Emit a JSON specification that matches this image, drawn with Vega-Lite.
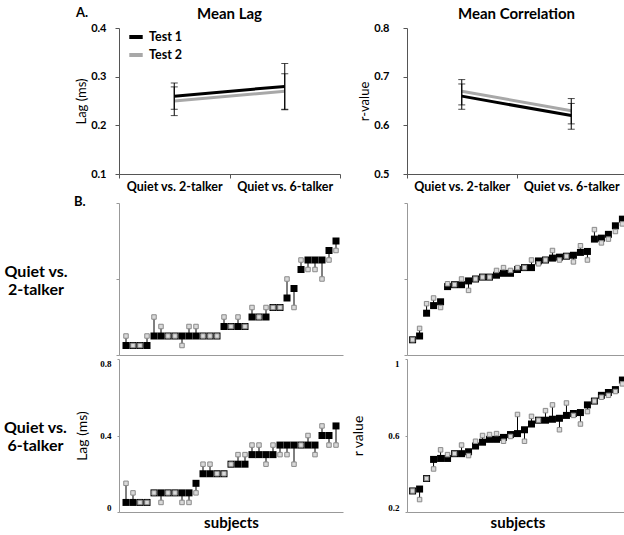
{
  "$schema": "https://vega.github.io/schema/vega-lite/v6.json",
  "padding": {"left": 3, "top": 7, "right": 5, "bottom": 5},
  "config": {
    "font": "Lato",
    "view": {"stroke": null},
    "axis": {"grid": false, "domainColor": "#555", "tickColor": "#555", "labelColor": "#000", "titleColor": "#000"}
  },
  "title": {"text": "A.", "anchor": "start", "frame": "group", "fontSize": 13, "fontWeight": "bold", "dx": -43, "dy": 17},
  "columns": 2,
  "spacing": {"row": 2, "column": 8},
  "datasets": {
    "lagmean": [
      {"cond": "Quiet vs. 2-talker", "test": "Test 1", "mean": 0.26, "lo": 0.233, "hi": 0.287},
      {"cond": "Quiet vs. 6-talker", "test": "Test 1", "mean": 0.28, "lo": 0.233, "hi": 0.327},
      {"cond": "Quiet vs. 2-talker", "test": "Test 2", "mean": 0.25, "lo": 0.22, "hi": 0.279},
      {"cond": "Quiet vs. 6-talker", "test": "Test 2", "mean": 0.27, "lo": 0.232, "hi": 0.306}
    ],
    "corrmean": [
      {"cond": "Quiet vs. 2-talker", "test": "Test 1", "mean": 0.66, "lo": 0.633, "hi": 0.685},
      {"cond": "Quiet vs. 6-talker", "test": "Test 1", "mean": 0.62, "lo": 0.592, "hi": 0.645},
      {"cond": "Quiet vs. 2-talker", "test": "Test 2", "mean": 0.67, "lo": 0.642, "hi": 0.694},
      {"cond": "Quiet vs. 6-talker", "test": "Test 2", "mean": 0.63, "lo": 0.603, "hi": 0.655}
    ],
    "lag2": [
      {"s": 1, "t1": 0.05, "t2": 0.10}, {"s": 2, "t1": 0.05, "t2": 0.05}, {"s": 3, "t1": 0.05, "t2": 0.05},
      {"s": 4, "t1": 0.05, "t2": 0.10}, {"s": 5, "t1": 0.10, "t2": 0.20}, {"s": 6, "t1": 0.10, "t2": 0.15},
      {"s": 7, "t1": 0.10, "t2": 0.10}, {"s": 8, "t1": 0.10, "t2": 0.10}, {"s": 9, "t1": 0.10, "t2": 0.05},
      {"s": 10, "t1": 0.10, "t2": 0.15}, {"s": 11, "t1": 0.10, "t2": 0.15}, {"s": 12, "t1": 0.10, "t2": 0.10},
      {"s": 13, "t1": 0.10, "t2": 0.10}, {"s": 14, "t1": 0.10, "t2": 0.10}, {"s": 15, "t1": 0.15, "t2": 0.20},
      {"s": 16, "t1": 0.15, "t2": 0.15}, {"s": 17, "t1": 0.15, "t2": 0.20}, {"s": 18, "t1": 0.15, "t2": 0.15},
      {"s": 19, "t1": 0.20, "t2": 0.25}, {"s": 20, "t1": 0.20, "t2": 0.20}, {"s": 21, "t1": 0.20, "t2": 0.25},
      {"s": 22, "t1": 0.25, "t2": 0.25}, {"s": 23, "t1": 0.25, "t2": 0.25}, {"s": 24, "t1": 0.30, "t2": 0.40},
      {"s": 25, "t1": 0.35, "t2": 0.25}, {"s": 26, "t1": 0.45, "t2": 0.50}, {"s": 27, "t1": 0.50, "t2": 0.45},
      {"s": 28, "t1": 0.50, "t2": 0.45}, {"s": 29, "t1": 0.50, "t2": 0.40}, {"s": 30, "t1": 0.55, "t2": 0.50},
      {"s": 31, "t1": 0.60, "t2": 0.55}
    ],
    "corr2": [
      {"s": 1, "t1": 0.28, "t2": 0.28}, {"s": 2, "t1": 0.30, "t2": 0.34}, {"s": 3, "t1": 0.42, "t2": 0.47},
      {"s": 4, "t1": 0.46, "t2": 0.50}, {"s": 5, "t1": 0.48, "t2": 0.45}, {"s": 6, "t1": 0.56, "t2": 0.575},
      {"s": 7, "t1": 0.57, "t2": 0.57}, {"s": 8, "t1": 0.57, "t2": 0.60}, {"s": 9, "t1": 0.59, "t2": 0.54},
      {"s": 10, "t1": 0.60, "t2": 0.60}, {"s": 11, "t1": 0.61, "t2": 0.61}, {"s": 12, "t1": 0.61, "t2": 0.61},
      {"s": 13, "t1": 0.62, "t2": 0.645}, {"s": 14, "t1": 0.63, "t2": 0.66}, {"s": 15, "t1": 0.63, "t2": 0.645},
      {"s": 16, "t1": 0.65, "t2": 0.66}, {"s": 17, "t1": 0.66, "t2": 0.66}, {"s": 18, "t1": 0.66, "t2": 0.70},
      {"s": 19, "t1": 0.695, "t2": 0.68}, {"s": 20, "t1": 0.70, "t2": 0.70}, {"s": 21, "t1": 0.71, "t2": 0.75},
      {"s": 22, "t1": 0.715, "t2": 0.70}, {"s": 23, "t1": 0.72, "t2": 0.72}, {"s": 24, "t1": 0.725, "t2": 0.69},
      {"s": 25, "t1": 0.74, "t2": 0.775}, {"s": 26, "t1": 0.745, "t2": 0.70}, {"s": 27, "t1": 0.81, "t2": 0.86},
      {"s": 28, "t1": 0.815, "t2": 0.79}, {"s": 29, "t1": 0.835, "t2": 0.81}, {"s": 30, "t1": 0.88, "t2": 0.85},
      {"s": 31, "t1": 0.915, "t2": 0.89}
    ],
    "lag6": [
      {"s": 1, "t1": 0.05, "t2": 0.15}, {"s": 2, "t1": 0.05, "t2": 0.10}, {"s": 3, "t1": 0.05, "t2": 0.05},
      {"s": 4, "t1": 0.05, "t2": 0.05}, {"s": 5, "t1": 0.10, "t2": 0.10}, {"s": 6, "t1": 0.10, "t2": 0.05},
      {"s": 7, "t1": 0.10, "t2": 0.10}, {"s": 8, "t1": 0.10, "t2": 0.10}, {"s": 9, "t1": 0.10, "t2": 0.05},
      {"s": 10, "t1": 0.10, "t2": 0.05}, {"s": 11, "t1": 0.15, "t2": 0.10}, {"s": 12, "t1": 0.20, "t2": 0.25},
      {"s": 13, "t1": 0.20, "t2": 0.25}, {"s": 14, "t1": 0.20, "t2": 0.20}, {"s": 15, "t1": 0.20, "t2": 0.20},
      {"s": 16, "t1": 0.25, "t2": 0.25}, {"s": 17, "t1": 0.25, "t2": 0.30}, {"s": 18, "t1": 0.25, "t2": 0.30},
      {"s": 19, "t1": 0.30, "t2": 0.35}, {"s": 20, "t1": 0.30, "t2": 0.35}, {"s": 21, "t1": 0.30, "t2": 0.25},
      {"s": 22, "t1": 0.30, "t2": 0.35}, {"s": 23, "t1": 0.35, "t2": 0.30}, {"s": 24, "t1": 0.35, "t2": 0.30},
      {"s": 25, "t1": 0.35, "t2": 0.25}, {"s": 26, "t1": 0.35, "t2": 0.35}, {"s": 27, "t1": 0.35, "t2": 0.40},
      {"s": 28, "t1": 0.35, "t2": 0.30}, {"s": 29, "t1": 0.40, "t2": 0.45}, {"s": 30, "t1": 0.40, "t2": 0.35},
      {"s": 31, "t1": 0.45, "t2": 0.35}
    ],
    "corr6": [
      {"s": 1, "t1": 0.31, "t2": 0.31}, {"s": 2, "t1": 0.32, "t2": 0.265}, {"s": 3, "t1": 0.375, "t2": 0.375},
      {"s": 4, "t1": 0.475, "t2": 0.425}, {"s": 5, "t1": 0.48, "t2": 0.525}, {"s": 6, "t1": 0.48, "t2": 0.50},
      {"s": 7, "t1": 0.505, "t2": 0.505}, {"s": 8, "t1": 0.505, "t2": 0.55}, {"s": 9, "t1": 0.515, "t2": 0.495},
      {"s": 10, "t1": 0.545, "t2": 0.57}, {"s": 11, "t1": 0.565, "t2": 0.60}, {"s": 12, "t1": 0.58, "t2": 0.605},
      {"s": 13, "t1": 0.58, "t2": 0.61}, {"s": 14, "t1": 0.59, "t2": 0.57}, {"s": 15, "t1": 0.605, "t2": 0.595},
      {"s": 16, "t1": 0.61, "t2": 0.71}, {"s": 17, "t1": 0.63, "t2": 0.57}, {"s": 18, "t1": 0.66, "t2": 0.70},
      {"s": 19, "t1": 0.68, "t2": 0.68}, {"s": 20, "t1": 0.68, "t2": 0.73}, {"s": 21, "t1": 0.685, "t2": 0.76},
      {"s": 22, "t1": 0.69, "t2": 0.63}, {"s": 23, "t1": 0.705, "t2": 0.77}, {"s": 24, "t1": 0.715, "t2": 0.705},
      {"s": 25, "t1": 0.72, "t2": 0.66}, {"s": 26, "t1": 0.76, "t2": 0.725}, {"s": 27, "t1": 0.78, "t2": 0.78},
      {"s": 28, "t1": 0.81, "t2": 0.80}, {"s": 29, "t1": 0.825, "t2": 0.81}, {"s": 30, "t1": 0.84, "t2": 0.83},
      {"s": 31, "t1": 0.89, "t2": 0.87}
    ]
  },
  "concat": [
    {
      "width": 221, "height": 146,
      "title": {"text": "Mean Lag", "fontSize": 15, "fontWeight": "bold", "offset": 0, "frame": "group"},
      "data": {"name": "lagmean"},
      "encoding": {
        "x": {"field": "cond", "type": "nominal", "sort": null, "title": null,
              "scale": {"type": "band", "paddingInner": 0, "paddingOuter": 0},
              "axis": {"labelAngle": 0, "labelFontSize": 12.5, "labelFontWeight": "bold", "tickBand": "extent", "tickSize": 4, "labelPadding": 2}}
      },
      "layer": [
        {"mark": {"type": "line", "strokeWidth": 3},
         "encoding": {
           "y": {"field": "mean", "type": "quantitative", "title": "Lag (ms)", "scale": {"domain": [0.1, 0.4]},
                 "axis": {"values": [0.1, 0.2, 0.3, 0.4], "format": ".1f", "labelFontSize": 11, "labelFontWeight": "bold", "tickSize": 4, "labelPadding": 9, "titleFontSize": 13, "titleFontWeight": "normal", "titlePadding": 2}},
           "color": {"field": "test", "type": "nominal", "scale": {"domain": ["Test 1", "Test 2"], "range": ["#000000", "#a8a8a8"]},
                     "legend": {"orient": "top-left", "title": null, "symbolType": "stroke", "symbolStrokeWidth": 4, "symbolSize": 180, "symbolOffset": 8, "labelFontSize": 12.5, "labelFontWeight": "bold", "offset": 0, "rowPadding": 1, "labelOffset": 4}}
         }},
        {"mark": {"type": "rule", "color": "black", "strokeWidth": 1},
         "encoding": {"y": {"field": "lo", "type": "quantitative", "title": "Lag (ms)", "scale": {"domain": [0.1, 0.4]}}, "y2": {"field": "hi"}}},
        {"mark": {"type": "tick", "orient": "horizontal", "size": 7, "thickness": 1, "color": "black"},
         "encoding": {"y": {"field": "lo", "type": "quantitative", "title": "Lag (ms)", "scale": {"domain": [0.1, 0.4]}}}},
        {"mark": {"type": "tick", "orient": "horizontal", "size": 7, "thickness": 1, "color": "black"},
         "encoding": {"y": {"field": "hi", "type": "quantitative", "title": "Lag (ms)", "scale": {"domain": [0.1, 0.4]}}}}
      ]
    },
    {
      "width": 219, "height": 146,
      "title": {"text": "Mean Correlation", "fontSize": 15, "fontWeight": "bold", "offset": 0, "frame": "group"},
      "data": {"name": "corrmean"},
      "encoding": {
        "x": {"field": "cond", "type": "nominal", "sort": null, "title": null,
              "scale": {"type": "band", "paddingInner": 0, "paddingOuter": 0},
              "axis": {"labelAngle": 0, "labelFontSize": 12.5, "labelFontWeight": "bold", "tickBand": "extent", "tickSize": 4, "labelPadding": 2}}
      },
      "layer": [
        {"mark": {"type": "line", "strokeWidth": 3},
         "encoding": {
           "y": {"field": "mean", "type": "quantitative", "title": "r-value", "scale": {"domain": [0.5, 0.8]},
                 "axis": {"values": [0.5, 0.6, 0.7, 0.8], "format": ".1f", "labelFontSize": 11, "labelFontWeight": "bold", "tickSize": 4, "labelPadding": 14, "titleFontSize": 13, "titleFontWeight": "normal", "titlePadding": 2}},
           "color": {"field": "test", "type": "nominal", "scale": {"domain": ["Test 1", "Test 2"], "range": ["#000000", "#a8a8a8"]}, "legend": null}
         }},
        {"mark": {"type": "rule", "color": "black", "strokeWidth": 1},
         "encoding": {"y": {"field": "lo", "type": "quantitative", "title": "r-value", "scale": {"domain": [0.5, 0.8]}}, "y2": {"field": "hi"}}},
        {"mark": {"type": "tick", "orient": "horizontal", "size": 7, "thickness": 1, "color": "black"},
         "encoding": {"y": {"field": "lo", "type": "quantitative", "title": "r-value", "scale": {"domain": [0.5, 0.8]}}}},
        {"mark": {"type": "tick", "orient": "horizontal", "size": 7, "thickness": 1, "color": "black"},
         "encoding": {"y": {"field": "hi", "type": "quantitative", "title": "r-value", "scale": {"domain": [0.5, 0.8]}}}}
      ]
    },
    {
      "width": 224, "height": 152,
      "title": {"text": "B.", "anchor": "start", "frame": "group", "dx": -45, "fontSize": 13, "fontWeight": "bold", "baseline": "top", "offset": -6},
      "data": {"name": "lag2"},
      "encoding": {
        "x": {"field": "s", "type": "quantitative", "title": null, "scale": {"domain": [0, 32], "nice": false, "zero": false},
              "axis": {"labels": false, "ticks": false, "domainColor": "#999"}}
      },
      "layer": [
        {"mark": {"type": "rule", "color": "black", "strokeWidth": 1},
         "encoding": {
           "y": {"field": "t1", "type": "quantitative", "scale": {"domain": [0, 0.8]},
                 "title": ["Quiet vs.", "2-talker"],
                 "axis": {"values": [0, 0.4, 0.8], "labels": false, "tickSize": 3, "tickColor": "#999", "domainColor": "#999",
                          "titleAngle": 0, "titleAlign": "center", "titleBaseline": "bottom", "titleFontSize": 16, "titleFontWeight": "bold", "titlePadding": 62}},
           "y2": {"field": "t2"}}},
        {"mark": {"type": "square", "filled": true, "color": "black", "size": 49, "opacity": 1},
         "encoding": {"y": {"field": "t1", "type": "quantitative", "scale": {"domain": [0, 0.8]}, "title": ["Quiet vs.", "2-talker"]}}},
        {"mark": {"type": "square", "filled": true, "fill": "#d9d9d9", "stroke": "#8a8a8a", "strokeWidth": 1, "size": 20, "opacity": 1},
         "encoding": {"y": {"field": "t2", "type": "quantitative", "scale": {"domain": [0, 0.8]}, "title": ["Quiet vs.", "2-talker"]}}}
      ]
    },
    {
      "width": 221, "height": 152,
      "data": {"name": "corr2"},
      "encoding": {
        "x": {"field": "s", "type": "quantitative", "title": null, "scale": {"domain": [0.2, 31.8], "nice": false, "zero": false},
              "axis": {"labels": false, "ticks": false, "domainColor": "#999"}}
      },
      "layer": [
        {"mark": {"type": "rule", "color": "black", "strokeWidth": 1},
         "encoding": {
           "y": {"field": "t1", "type": "quantitative", "scale": {"domain": [0.2, 1]}, "title": null,
                 "axis": {"values": [0.2, 0.6, 1], "labels": false, "tickSize": 3, "tickColor": "#999", "domainColor": "#999"}},
           "y2": {"field": "t2"}}},
        {"mark": {"type": "square", "filled": true, "color": "black", "size": 49, "opacity": 1},
         "encoding": {"y": {"field": "t1", "type": "quantitative", "scale": {"domain": [0.2, 1]}, "title": null}}},
        {"mark": {"type": "square", "filled": true, "fill": "#d9d9d9", "stroke": "#8a8a8a", "strokeWidth": 1, "size": 20, "opacity": 1},
         "encoding": {"y": {"field": "t2", "type": "quantitative", "scale": {"domain": [0.2, 1]}, "title": null}}}
      ]
    },
    {
      "width": 224, "height": 153,
      "title": {"text": ["Quiet vs.", "6-talker"], "orient": "left", "angle": 0, "align": "center", "baseline": "bottom", "anchor": "middle", "fontSize": 16, "fontWeight": "bold", "offset": -23},
      "data": {"name": "lag6"},
      "encoding": {
        "x": {"field": "s", "type": "quantitative", "title": "subjects", "scale": {"domain": [0, 32], "nice": false, "zero": false},
              "axis": {"labels": false, "ticks": false, "domainColor": "#999", "titleFontSize": 15, "titleFontWeight": "bold", "titlePadding": 3}}
      },
      "layer": [
        {"mark": {"type": "rule", "color": "black", "strokeWidth": 1},
         "encoding": {
           "y": {"field": "t1", "type": "quantitative", "scale": {"domain": [0, 0.8]}, "title": "Lag (ms)",
                 "axis": {"values": [0, 0.4, 0.8], "format": "~g", "labelFont": "Liberation Serif", "labelFontSize": 9, "labelFontWeight": "bold", "labelFlush": true, "labelPadding": 6,
                          "tickSize": 2, "tickColor": "#999", "domainColor": "#999", "titleFontSize": 14, "titleFontWeight": "normal", "titlePadding": 10}},
           "y2": {"field": "t2"}}},
        {"mark": {"type": "square", "filled": true, "color": "black", "size": 49, "opacity": 1},
         "encoding": {"y": {"field": "t1", "type": "quantitative", "scale": {"domain": [0, 0.8]}, "title": "Lag (ms)"}}},
        {"mark": {"type": "square", "filled": true, "fill": "#d9d9d9", "stroke": "#8a8a8a", "strokeWidth": 1, "size": 20, "opacity": 1},
         "encoding": {"y": {"field": "t2", "type": "quantitative", "scale": {"domain": [0, 0.8]}, "title": "Lag (ms)"}}}
      ]
    },
    {
      "width": 221, "height": 153,
      "data": {"name": "corr6"},
      "encoding": {
        "x": {"field": "s", "type": "quantitative", "title": "subjects", "scale": {"domain": [0.2, 31.8], "nice": false, "zero": false},
              "axis": {"labels": false, "ticks": false, "domainColor": "#999", "titleFontSize": 15, "titleFontWeight": "bold", "titlePadding": 3}}
      },
      "layer": [
        {"mark": {"type": "rule", "color": "black", "strokeWidth": 1},
         "encoding": {
           "y": {"field": "t1", "type": "quantitative", "scale": {"domain": [0.2, 1]}, "title": "r value",
                 "axis": {"values": [0.2, 0.6, 1], "format": "~g", "labelFont": "Liberation Serif", "labelFontSize": 9, "labelFontWeight": "bold", "labelFlush": true, "labelPadding": 6,
                          "tickSize": 2, "tickColor": "#999", "domainColor": "#999", "titleFontSize": 14, "titleFontWeight": "normal", "titlePadding": 22}},
           "y2": {"field": "t2"}}},
        {"mark": {"type": "square", "filled": true, "color": "black", "size": 49, "opacity": 1},
         "encoding": {"y": {"field": "t1", "type": "quantitative", "scale": {"domain": [0.2, 1]}, "title": "r value"}}},
        {"mark": {"type": "square", "filled": true, "fill": "#d9d9d9", "stroke": "#8a8a8a", "strokeWidth": 1, "size": 20, "opacity": 1},
         "encoding": {"y": {"field": "t2", "type": "quantitative", "scale": {"domain": [0.2, 1]}, "title": "r value"}}}
      ]
    }
  ]
}
